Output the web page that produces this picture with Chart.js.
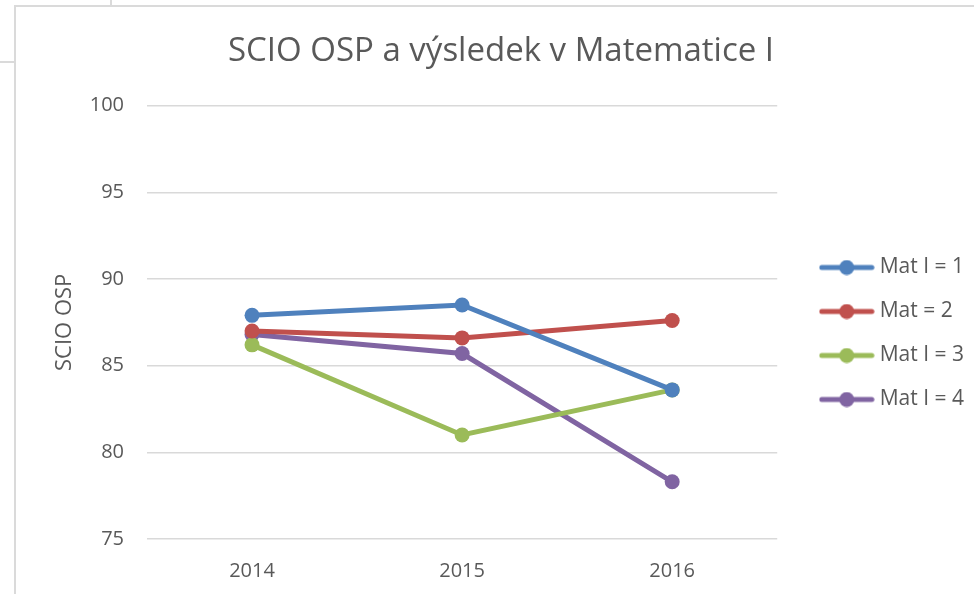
<!DOCTYPE html>
<html>
<head>
<meta charset="utf-8">
<script src="https://cdn.jsdelivr.net/npm/chart.js@4/dist/chart.umd.min.js"></script>
<style>
  html, body { margin: 0; padding: 0; background: #fff; }
  body { width: 974px; height: 594px; position: relative; overflow: hidden; }
  .gl { position: absolute; background: #dadada; }
  #frame { position: absolute; left: 14px; top: 5px; width: 960px; height: 589px;
           border-left: 2px solid #dadada; border-top: 2px solid #dadada; box-sizing: border-box; }
  #wrap { position: absolute; left: 28px; top: 7px; width: 946px; height: 587px; }
</style>
</head>
<body>
<div class="gl" style="left:110px;top:0;width:2px;height:6px;"></div>
<div class="gl" style="left:0;top:61px;width:15px;height:2px;"></div>
<div id="frame"></div>
<div id="wrap"><canvas id="c"></canvas></div>
<script>
const categories = ['2014', '2015', '2016'];
const seriesNames = ['Mat I = 1', 'Mat = 2', 'Mat I = 3', 'Mat I = 4'];
const mat1 = [87.9, 88.5, 83.6];
const mat2 = [87.0, 86.6, 87.6];
const mat3 = [86.2, 81.0, 83.6];
const mat4 = [86.8, 85.7, 78.3];
const colors = ['#4f81bd', '#c0504d', '#9bbb59', '#8064a2'];
const yTicks = [75, 80, 85, 90, 95, 100];

const textColor = '#595959';
const fontFamily = "'Open Sans', 'Liberation Sans', sans-serif";

function legendIcon(color) {
  const c = document.createElement('canvas');
  c.width = 56; c.height = 16;
  const g = c.getContext('2d');
  g.strokeStyle = color; g.lineWidth = 5; g.lineCap = 'round';
  g.beginPath(); g.moveTo(3, 8); g.lineTo(53, 8); g.stroke();
  g.fillStyle = color;
  g.beginPath(); g.arc(28, 8, 7.5, 0, Math.PI * 2); g.fill();
  return c;
}

const seriesData = [mat1, mat2, mat3, mat4];
const datasets = seriesData.map((d, i) => ({
  label: seriesNames[i],
  data: d,
  borderColor: colors[i],
  backgroundColor: colors[i],
  borderWidth: 5,
  pointRadius: 7.5,
  pointHoverRadius: 7.5,
  pointBorderWidth: 0,
  pointStyle: 'circle',
  tension: 0,
  fill: false,
  legendIcon: legendIcon(colors[i])
}));

new Chart(document.getElementById('c'), {
  type: 'line',
  data: { labels: categories, datasets },
  options: {
    responsive: true,
    maintainAspectRatio: false,
    animation: false,
    layout: { padding: { left: 0, right: 0, top: 0, bottom: 0 } },
    plugins: {
      title: {
        display: true,
        text: 'SCIO OSP a výsledek v Matematice I',
        color: textColor,
        font: { family: fontFamily, size: 33, weight: 'normal' },
        padding: { top: 25, bottom: 34 }
      },
      legend: {
        position: 'right',
        align: 'center',
        maxWidth: 173,
        title: {
          display: true,
          text: ' ',
          font: { size: 10 },
          padding: { top: 27, bottom: 27 }
        },
        labels: {
          color: textColor,
          font: { family: fontFamily, size: 21 },
          padding: 23,
          usePointStyle: true,
          pointStyleWidth: 45,
          generateLabels(chart) {
            return chart.data.datasets.map((ds, i) => ({
              text: ds.label,
              fillStyle: ds.backgroundColor,
              strokeStyle: ds.borderColor,
              lineWidth: 0,
              pointStyle: ds.legendIcon,
              fontColor: textColor,
              hidden: false,
              datasetIndex: i
            }));
          }
        }
      },
      tooltip: { enabled: false }
    },
    scales: {
      x: {
        offset: true,
        grid: { display: false, drawTicks: false },
        border: { display: false },
        ticks: { color: textColor, font: { family: fontFamily, size: 20 }, padding: 20 },
        afterFit(scale) { scale.height = 55; }
      },
      y: {
        min: 75,
        max: 100,
        afterBuildTicks(scale) { scale.ticks = yTicks.map(v => ({ value: v })); },
        grid: { color: '#d9d9d9', lineWidth: 1.5, drawTicks: false },
        border: { display: false },
        ticks: { color: textColor, font: { family: fontFamily, size: 20 }, padding: 23 },
        title: {
          display: true,
          text: 'SCIO OSP',
          color: textColor,
          font: { family: fontFamily, size: 22 },
          padding: { top: 24, bottom: 9 }
        },
        afterFit(scale) { scale.width = 119; }
      },
      y2: {
        position: 'right',
        display: true,
        grid: { display: false, drawTicks: false },
        border: { display: false },
        ticks: { display: false },
        afterFit(scale) { scale.width = 24; }
      }
    }
  }
});
</script>
</body>
</html>
